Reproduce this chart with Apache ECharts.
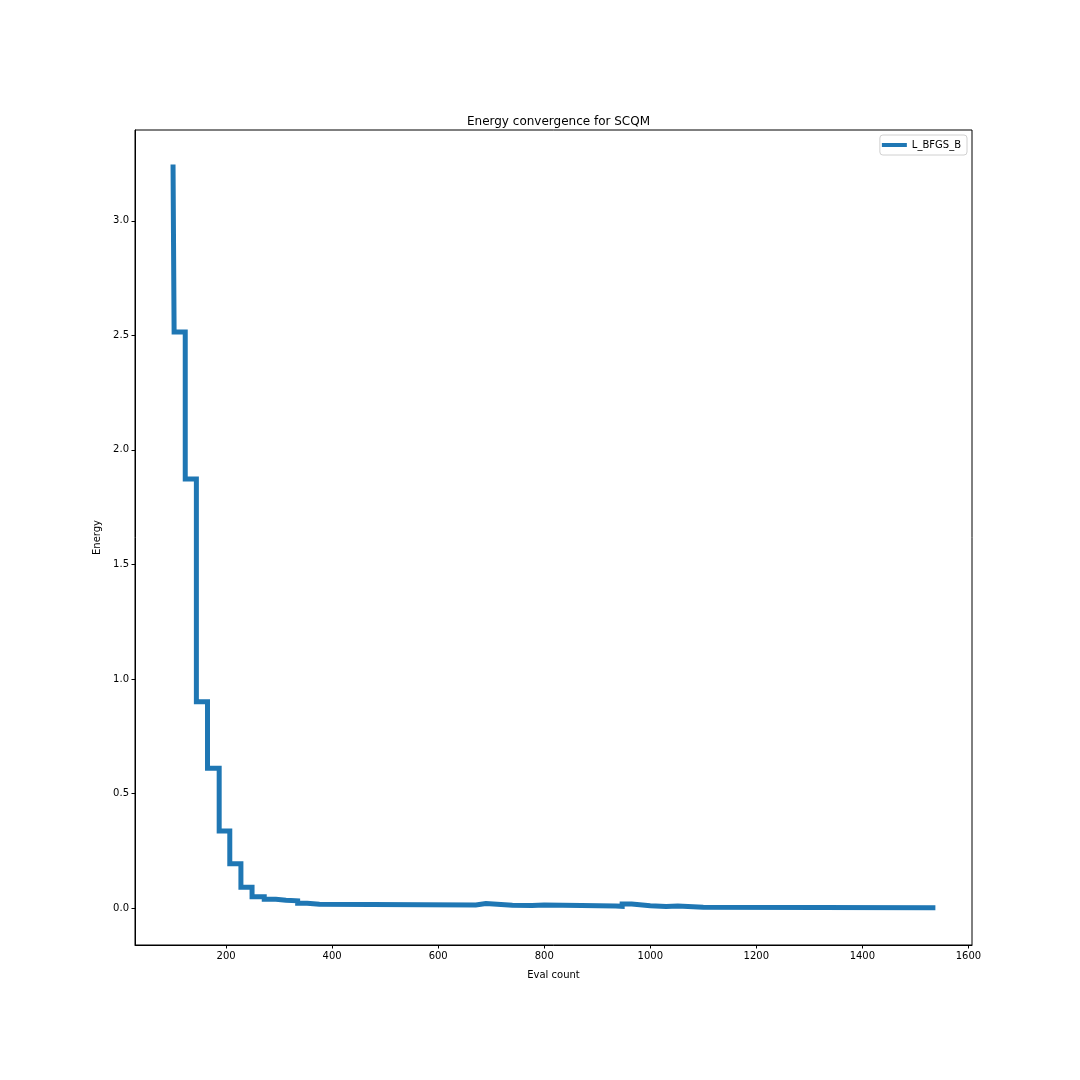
<!DOCTYPE html>
<html>
<head>
<meta charset="utf-8">
<script src="https://cdn.jsdelivr.net/npm/echarts@6/dist/echarts.min.js"></script>
<style>html,body{margin:0;padding:0;background:#fff}#c{width:1080px;height:1080px}</style>
</head>
<body>
<div id="c"></div>
<script>
// Data (best energy so far vs evaluation count; step changes)
const evalCount = [100, 102, 123, 144, 165, 187, 207, 228, 249, 272, 294, 313, 335, 353, 376, 671, 690, 740, 777, 800, 870, 935, 947, 965, 1000, 1030, 1052, 1100, 1533];
const energy    = [3.235, 2.515, 1.873, 0.900, 0.610, 0.336, 0.193, 0.090, 0.049, 0.038, 0.034, 0.031, 0.021, 0.016, 0.013, 0.019, 0.012, 0.011, 0.013, 0.011, 0.009, 0.007, 0.017, 0.010, 0.006, 0.008, 0.003, 0.001, 0.001];
const xTicks = [200, 400, 600, 800, 1000, 1200, 1400, 1600];
const yTicks = [0.0, 0.5, 1.0, 1.5, 2.0, 2.5, 3.0];
const seriesName = 'L_BFGS_B';
const titleText = 'Energy convergence for SCQM';
const xName = 'Eval count';
const yName = 'Energy';

const font = 'DejaVu Sans';
const chart = echarts.init(document.getElementById('c'), null, {renderer: 'canvas'});
const pts = evalCount.map((x, i) => [x, energy[i]]);
chart.setOption({
  animation: false,
  backgroundColor: '#fff',
  title: {
    text: titleText, left: 553.5, top: 111, textAlign: 'center',
    textStyle: {fontFamily: font, fontSize: 12, fontWeight: 'normal', color: '#000'}
  },
  legend: {
    data: [seriesName], right: 113, top: 135, orient: 'vertical',
    icon: 'rect', itemWidth: 25, itemHeight: 4, itemGap: 0,
    padding: [5, 6, 5, 2], borderColor: '#d0d0d0', borderWidth: 1, borderRadius: 3,
    textStyle: {fontFamily: font, fontSize: 10, color: '#000'}
  },
  grid: {left: 135, right: 108, top: 130, bottom: 135, show: true, borderColor: '#000', borderWidth: 1, containLabel: false},
  xAxis: {
    type: 'value', min: 28.25, max: 1606.75,
    name: xName, nameLocation: 'middle', nameGap: 25,
    nameTextStyle: {fontFamily: font, fontSize: 10, color: '#000'},
    axisLine: {show: true, onZero: false, lineStyle: {color: '#000', width: 1}},
    axisTick: {show: true, customValues: xTicks, length: 3.5, inside: false, lineStyle: {color: '#000'}},
    axisLabel: {customValues: xTicks, fontFamily: font, fontSize: 10, color: '#000', margin: 6, formatter: v => String(Math.round(v))},
    splitLine: {show: false}
  },
  yAxis: {
    type: 'value', min: -0.16175, max: 3.39675,
    name: yName, nameLocation: 'middle', nameGap: 27, nameRotate: 90,
    nameTextStyle: {fontFamily: font, fontSize: 10, color: '#000'},
    axisLine: {show: true, onZero: false, lineStyle: {color: '#000', width: 1}},
    axisTick: {show: true, customValues: yTicks, length: 3.5, inside: false, lineStyle: {color: '#000'}},
    axisLabel: {customValues: yTicks, fontFamily: font, fontSize: 10, color: '#000', margin: 6, formatter: v => v.toFixed(1)},
    splitLine: {show: false}
  },
  series: [{
    name: seriesName, type: 'line', step: 'end', data: pts,
    showSymbol: false, symbol: 'none',
    lineStyle: {color: '#1f77b4', width: 5, cap: 'square', join: 'miter'},
    itemStyle: {color: '#1f77b4'}
  }]
});
</script>
</body>
</html>
